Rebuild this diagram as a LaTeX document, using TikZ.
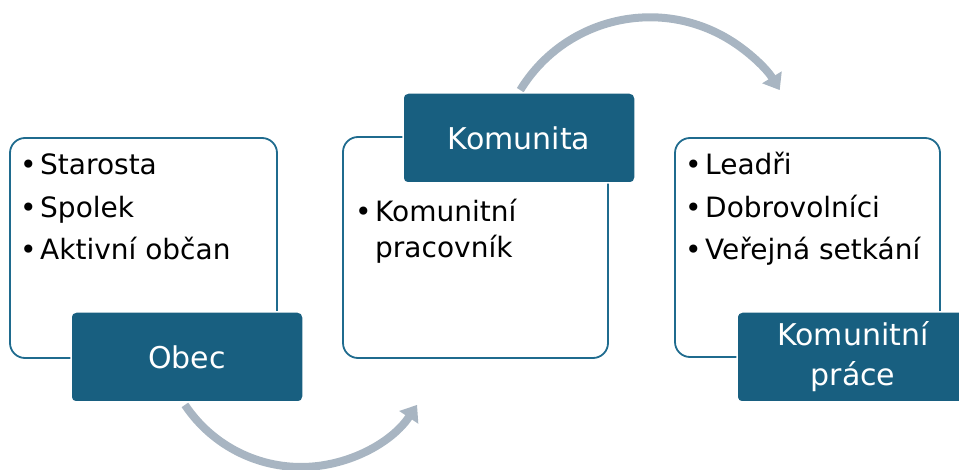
\documentclass[tikz,border=0pt]{standalone}
\usepackage{fontspec}
\setmainfont{DejaVu Sans}
\usetikzlibrary{arrows.meta,calc}
\definecolor{lblfill}{HTML}{185F80}
\definecolor{boxline}{HTML}{1F6B8E}
\definecolor{arrgray}{HTML}{A8B5C2}
\newcommand{\bul}{\makebox[20pt][l]{•}}
\tikzset{
  panel/.style={draw=boxline, line width=1.8pt, fill=white, rounded corners=15pt, inner sep=0pt},
  label/.style={draw=white, line width=1.5pt, fill=lblfill, rounded corners=5pt, inner sep=0pt,
    minimum width=232pt, minimum height=90pt, text=white, align=center,
    font=\fontsize{30}{40}\selectfont},
  item/.style={anchor=base west, inner sep=0pt, font=\fontsize{28}{34}\selectfont},
  flow/.style={draw=arrgray, line width=8pt, -{Triangle[width=22pt,length=15pt]}}
}
\begin{document}
\begin{tikzpicture}[x=1pt,y=1pt]
\useasboundingbox (0,0) rectangle (959,-470);
% curved arrows
\coordinate (a1s) at ($(650,-169.3)+(148.6:152)$);
\coordinate (a2s) at ($(301,-327.5)+(213.7:139.5)$);
\draw[flow] (a1s) arc[start angle=148.6, end angle=31.4, radius=152];
\draw[flow] (a2s) arc[start angle=213.7, end angle=326.3, radius=139.5];
% panels
\node[panel, minimum width=267pt, minimum height=220pt] (p1) at (143.5,-248) {};
\node[panel, minimum width=265pt, minimum height=221pt] (p2) at (475.5,-247.5) {};
\node[panel, minimum width=265pt, minimum height=219pt] (p3) at (807.5,-247.5) {};
% items
\node[item] (i1a) at (20,-175) {\bul Starosta};
\node[item] (i1b) at (20,-218) {\bul Spolek};
\node[item] (i1c) at (20,-260) {\bul Aktivní občan};
\node[item] (i2a) at (355,-222) {\bul Komunitní};
\node[item] (i2b) at (375,-258) {pracovník};
\node[item] (i3a) at (685,-175) {\bul Leadři};
\node[item] (i3b) at (685,-218) {\bul Dobrovolníci};
\node[item] (i3c) at (685,-260) {\bul Veřejná setkání};
% labels
\node[label] (l1) at (187,-357) {Obec};
\node[label] (l2) at (519,-138) {Komunita};
\node[label] (l3) at (853,-357) {Komunitní\\práce};
\end{tikzpicture}
\end{document}
